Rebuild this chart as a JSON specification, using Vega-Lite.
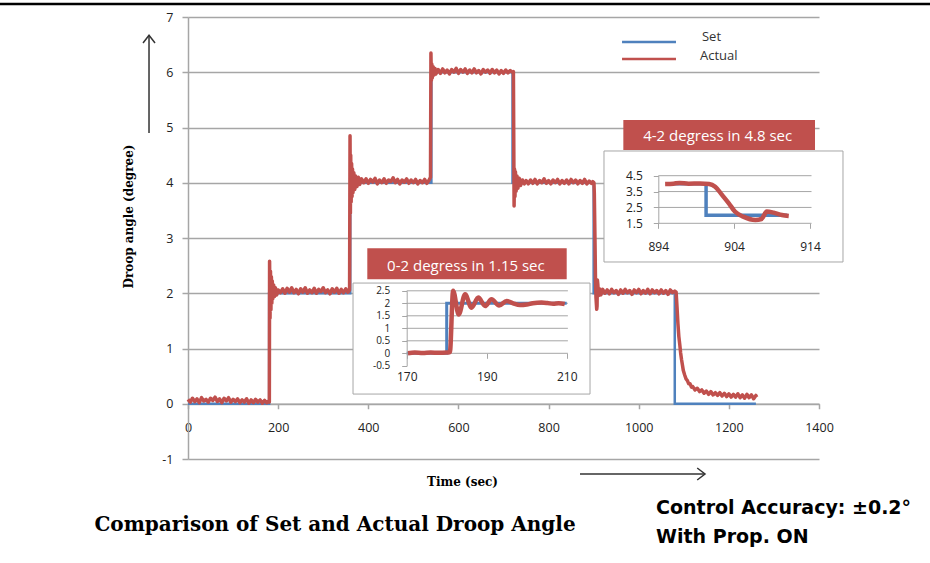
{
  "$schema": "https://vega.github.io/schema/vega-lite/v6.json",
  "width": 631,
  "height": 442,
  "autosize": {"type": "none"},
  "padding": {"left": 188, "top": 17, "right": 111, "bottom": 104},
  "background": "white",
  "config": {"view": {"stroke": null}},
  "datasets": {
    "mainSet": [
      {"i": 0, "t": 0, "v": 0, "s": "Set"}, {"i": 1, "t": 180, "v": 0, "s": "Set"}, {"i": 2, "t": 180, "v": 2, "s": "Set"},
      {"i": 3, "t": 360, "v": 2, "s": "Set"}, {"i": 4, "t": 360, "v": 4, "s": "Set"}, {"i": 5, "t": 540, "v": 4, "s": "Set"},
      {"i": 6, "t": 540, "v": 6, "s": "Set"}, {"i": 7, "t": 720, "v": 6, "s": "Set"}, {"i": 8, "t": 720, "v": 4, "s": "Set"},
      {"i": 9, "t": 900, "v": 4, "s": "Set"}, {"i": 10, "t": 900, "v": 2, "s": "Set"}, {"i": 11, "t": 1080, "v": 2, "s": "Set"},
      {"i": 12, "t": 1080, "v": 0, "s": "Set"}, {"i": 13, "t": 1260, "v": 0, "s": "Set"}
    ],
    "mainAct": [
      {"t": 0, "v": 0.08, "s": "Actual"}, {"t": 5, "v": 0.03, "s": "Actual"}, {"t": 10, "v": 0.1, "s": "Actual"}, {"t": 15, "v": 0.04, "s": "Actual"},
      {"t": 20, "v": 0.09, "s": "Actual"}, {"t": 25, "v": 0.02, "s": "Actual"}, {"t": 30, "v": 0.11, "s": "Actual"}, {"t": 35, "v": 0.05, "s": "Actual"},
      {"t": 40, "v": 0.08, "s": "Actual"}, {"t": 45, "v": 0.03, "s": "Actual"}, {"t": 50, "v": 0.1, "s": "Actual"}, {"t": 55, "v": 0.06, "s": "Actual"},
      {"t": 60, "v": 0.12, "s": "Actual"}, {"t": 65, "v": 0.04, "s": "Actual"}, {"t": 70, "v": 0.09, "s": "Actual"}, {"t": 75, "v": 0.02, "s": "Actual"},
      {"t": 80, "v": 0.1, "s": "Actual"}, {"t": 85, "v": 0.05, "s": "Actual"}, {"t": 90, "v": 0.11, "s": "Actual"}, {"t": 95, "v": 0.03, "s": "Actual"},
      {"t": 100, "v": 0.08, "s": "Actual"}, {"t": 105, "v": 0.04, "s": "Actual"}, {"t": 110, "v": 0.09, "s": "Actual"}, {"t": 115, "v": 0.02, "s": "Actual"},
      {"t": 120, "v": 0.07, "s": "Actual"}, {"t": 125, "v": 0.03, "s": "Actual"}, {"t": 130, "v": 0.09, "s": "Actual"}, {"t": 135, "v": 0.01, "s": "Actual"},
      {"t": 140, "v": 0.07, "s": "Actual"}, {"t": 145, "v": 0.02, "s": "Actual"}, {"t": 150, "v": 0.08, "s": "Actual"}, {"t": 155, "v": 0.03, "s": "Actual"},
      {"t": 160, "v": 0.07, "s": "Actual"}, {"t": 165, "v": 0.01, "s": "Actual"}, {"t": 170, "v": 0.06, "s": "Actual"}, {"t": 175, "v": 0.02, "s": "Actual"},
      {"t": 179, "v": 0.05, "s": "Actual"}, {"t": 180.5, "v": 0.03, "s": "Actual"},
      {"t": 181, "v": 2.58, "s": "Actual"}, {"t": 182, "v": 1.55, "s": "Actual"}, {"t": 183, "v": 2.4, "s": "Actual"}, {"t": 184, "v": 1.7, "s": "Actual"},
      {"t": 185, "v": 2.3, "s": "Actual"}, {"t": 186, "v": 1.82, "s": "Actual"}, {"t": 187, "v": 2.22, "s": "Actual"}, {"t": 188, "v": 1.9, "s": "Actual"},
      {"t": 190, "v": 2.15, "s": "Actual"}, {"t": 192, "v": 1.94, "s": "Actual"}, {"t": 194, "v": 2.1, "s": "Actual"}, {"t": 197, "v": 1.97, "s": "Actual"},
      {"t": 200, "v": 2.06, "s": "Actual"}, {"t": 205, "v": 2.01, "s": "Actual"}, {"t": 210, "v": 2.08, "s": "Actual"}, {"t": 215, "v": 2.0, "s": "Actual"},
      {"t": 220, "v": 2.09, "s": "Actual"}, {"t": 225, "v": 2.02, "s": "Actual"}, {"t": 230, "v": 2.1, "s": "Actual"}, {"t": 235, "v": 2.01, "s": "Actual"},
      {"t": 240, "v": 2.07, "s": "Actual"}, {"t": 245, "v": 1.99, "s": "Actual"}, {"t": 250, "v": 2.08, "s": "Actual"}, {"t": 255, "v": 2.02, "s": "Actual"},
      {"t": 260, "v": 2.1, "s": "Actual"}, {"t": 265, "v": 2.0, "s": "Actual"}, {"t": 270, "v": 2.06, "s": "Actual"}, {"t": 275, "v": 2.01, "s": "Actual"},
      {"t": 280, "v": 2.09, "s": "Actual"}, {"t": 285, "v": 2.0, "s": "Actual"}, {"t": 290, "v": 2.07, "s": "Actual"}, {"t": 295, "v": 2.03, "s": "Actual"},
      {"t": 300, "v": 2.1, "s": "Actual"}, {"t": 305, "v": 2.01, "s": "Actual"}, {"t": 310, "v": 2.06, "s": "Actual"}, {"t": 315, "v": 1.99, "s": "Actual"},
      {"t": 320, "v": 2.08, "s": "Actual"}, {"t": 325, "v": 2.02, "s": "Actual"}, {"t": 330, "v": 2.09, "s": "Actual"}, {"t": 335, "v": 2.0, "s": "Actual"},
      {"t": 340, "v": 2.07, "s": "Actual"}, {"t": 345, "v": 2.01, "s": "Actual"}, {"t": 350, "v": 2.08, "s": "Actual"}, {"t": 355, "v": 2.02, "s": "Actual"},
      {"t": 358.5, "v": 2.06, "s": "Actual"},
      {"t": 359.5, "v": 4.85, "s": "Actual"}, {"t": 360.3, "v": 3.45, "s": "Actual"}, {"t": 361, "v": 4.5, "s": "Actual"}, {"t": 362, "v": 3.65, "s": "Actual"},
      {"t": 363, "v": 4.35, "s": "Actual"}, {"t": 364, "v": 3.75, "s": "Actual"}, {"t": 365, "v": 4.25, "s": "Actual"}, {"t": 366, "v": 3.82, "s": "Actual"},
      {"t": 368, "v": 4.18, "s": "Actual"}, {"t": 370, "v": 3.88, "s": "Actual"}, {"t": 372, "v": 4.12, "s": "Actual"}, {"t": 375, "v": 3.93, "s": "Actual"},
      {"t": 378, "v": 4.1, "s": "Actual"}, {"t": 381, "v": 3.97, "s": "Actual"}, {"t": 385, "v": 4.07, "s": "Actual"}, {"t": 390, "v": 4.0, "s": "Actual"},
      {"t": 395, "v": 4.07, "s": "Actual"}, {"t": 400, "v": 3.99, "s": "Actual"}, {"t": 405, "v": 4.06, "s": "Actual"}, {"t": 410, "v": 4.01, "s": "Actual"},
      {"t": 415, "v": 4.08, "s": "Actual"}, {"t": 420, "v": 3.98, "s": "Actual"}, {"t": 425, "v": 4.05, "s": "Actual"}, {"t": 430, "v": 4.0, "s": "Actual"},
      {"t": 435, "v": 4.07, "s": "Actual"}, {"t": 440, "v": 3.99, "s": "Actual"}, {"t": 445, "v": 4.05, "s": "Actual"}, {"t": 450, "v": 4.02, "s": "Actual"},
      {"t": 455, "v": 4.09, "s": "Actual"}, {"t": 460, "v": 4.0, "s": "Actual"}, {"t": 465, "v": 4.06, "s": "Actual"}, {"t": 470, "v": 3.98, "s": "Actual"},
      {"t": 475, "v": 4.05, "s": "Actual"}, {"t": 480, "v": 4.01, "s": "Actual"}, {"t": 485, "v": 4.07, "s": "Actual"}, {"t": 490, "v": 3.99, "s": "Actual"},
      {"t": 495, "v": 4.05, "s": "Actual"}, {"t": 500, "v": 4.0, "s": "Actual"}, {"t": 505, "v": 4.06, "s": "Actual"}, {"t": 510, "v": 3.98, "s": "Actual"},
      {"t": 515, "v": 4.04, "s": "Actual"}, {"t": 520, "v": 4.0, "s": "Actual"}, {"t": 525, "v": 4.06, "s": "Actual"}, {"t": 530, "v": 3.99, "s": "Actual"},
      {"t": 535, "v": 4.05, "s": "Actual"}, {"t": 538, "v": 4.1, "s": "Actual"},
      {"t": 539, "v": 6.35, "s": "Actual"}, {"t": 540, "v": 5.85, "s": "Actual"}, {"t": 541, "v": 6.15, "s": "Actual"}, {"t": 542, "v": 5.9, "s": "Actual"},
      {"t": 544, "v": 6.1, "s": "Actual"}, {"t": 546, "v": 5.95, "s": "Actual"}, {"t": 548, "v": 6.07, "s": "Actual"}, {"t": 550, "v": 5.97, "s": "Actual"},
      {"t": 555, "v": 6.05, "s": "Actual"}, {"t": 560, "v": 5.98, "s": "Actual"}, {"t": 565, "v": 6.06, "s": "Actual"}, {"t": 570, "v": 5.99, "s": "Actual"},
      {"t": 575, "v": 6.04, "s": "Actual"}, {"t": 580, "v": 5.97, "s": "Actual"}, {"t": 585, "v": 6.05, "s": "Actual"}, {"t": 590, "v": 6.0, "s": "Actual"},
      {"t": 595, "v": 6.07, "s": "Actual"}, {"t": 600, "v": 5.98, "s": "Actual"}, {"t": 605, "v": 6.05, "s": "Actual"}, {"t": 610, "v": 6.0, "s": "Actual"},
      {"t": 615, "v": 6.06, "s": "Actual"}, {"t": 620, "v": 5.98, "s": "Actual"}, {"t": 625, "v": 6.04, "s": "Actual"}, {"t": 630, "v": 5.99, "s": "Actual"},
      {"t": 635, "v": 6.06, "s": "Actual"}, {"t": 640, "v": 5.99, "s": "Actual"}, {"t": 645, "v": 6.03, "s": "Actual"}, {"t": 650, "v": 5.97, "s": "Actual"},
      {"t": 655, "v": 6.05, "s": "Actual"}, {"t": 660, "v": 6.0, "s": "Actual"}, {"t": 665, "v": 6.04, "s": "Actual"}, {"t": 670, "v": 5.98, "s": "Actual"},
      {"t": 675, "v": 6.05, "s": "Actual"}, {"t": 680, "v": 5.99, "s": "Actual"}, {"t": 685, "v": 6.04, "s": "Actual"}, {"t": 690, "v": 5.97, "s": "Actual"},
      {"t": 695, "v": 6.03, "s": "Actual"}, {"t": 700, "v": 5.98, "s": "Actual"}, {"t": 705, "v": 6.04, "s": "Actual"}, {"t": 710, "v": 5.99, "s": "Actual"},
      {"t": 715, "v": 6.03, "s": "Actual"}, {"t": 720, "v": 6.0, "s": "Actual"}, {"t": 722, "v": 6.01, "s": "Actual"},
      {"t": 723.5, "v": 3.58, "s": "Actual"}, {"t": 724.5, "v": 4.25, "s": "Actual"}, {"t": 725.5, "v": 3.75, "s": "Actual"}, {"t": 726.5, "v": 4.2, "s": "Actual"},
      {"t": 728, "v": 3.85, "s": "Actual"}, {"t": 730, "v": 4.12, "s": "Actual"}, {"t": 732, "v": 3.9, "s": "Actual"}, {"t": 735, "v": 4.08, "s": "Actual"},
      {"t": 738, "v": 3.95, "s": "Actual"}, {"t": 742, "v": 4.05, "s": "Actual"}, {"t": 746, "v": 3.98, "s": "Actual"}, {"t": 750, "v": 4.04, "s": "Actual"},
      {"t": 755, "v": 3.98, "s": "Actual"}, {"t": 760, "v": 4.05, "s": "Actual"}, {"t": 765, "v": 3.99, "s": "Actual"}, {"t": 770, "v": 4.06, "s": "Actual"},
      {"t": 775, "v": 3.98, "s": "Actual"}, {"t": 780, "v": 4.04, "s": "Actual"}, {"t": 785, "v": 4.0, "s": "Actual"}, {"t": 790, "v": 4.07, "s": "Actual"},
      {"t": 795, "v": 3.99, "s": "Actual"}, {"t": 800, "v": 4.04, "s": "Actual"}, {"t": 805, "v": 3.98, "s": "Actual"}, {"t": 810, "v": 4.05, "s": "Actual"},
      {"t": 815, "v": 4.0, "s": "Actual"}, {"t": 820, "v": 4.06, "s": "Actual"}, {"t": 825, "v": 3.98, "s": "Actual"}, {"t": 830, "v": 4.04, "s": "Actual"},
      {"t": 835, "v": 3.99, "s": "Actual"}, {"t": 840, "v": 4.05, "s": "Actual"}, {"t": 845, "v": 3.98, "s": "Actual"}, {"t": 850, "v": 4.06, "s": "Actual"},
      {"t": 855, "v": 4.0, "s": "Actual"}, {"t": 860, "v": 4.05, "s": "Actual"}, {"t": 865, "v": 3.98, "s": "Actual"}, {"t": 870, "v": 4.04, "s": "Actual"},
      {"t": 875, "v": 3.99, "s": "Actual"}, {"t": 880, "v": 4.06, "s": "Actual"}, {"t": 885, "v": 3.98, "s": "Actual"}, {"t": 890, "v": 4.03, "s": "Actual"},
      {"t": 895, "v": 3.99, "s": "Actual"}, {"t": 898, "v": 4.02, "s": "Actual"}, {"t": 900.7, "v": 4.0, "s": "Actual"},
      {"t": 901.5, "v": 3.81, "s": "Actual"}, {"t": 902.4, "v": 3.29, "s": "Actual"}, {"t": 903.3, "v": 2.76, "s": "Actual"}, {"t": 904.1, "v": 2.24, "s": "Actual"},
      {"t": 905.2, "v": 1.92, "s": "Actual"}, {"t": 906.8, "v": 1.71, "s": "Actual"}, {"t": 907.6, "v": 1.77, "s": "Actual"}, {"t": 908.3, "v": 2.24, "s": "Actual"},
      {"t": 909.2, "v": 2.17, "s": "Actual"}, {"t": 910.3, "v": 2.02, "s": "Actual"}, {"t": 911.2, "v": 1.96, "s": "Actual"}, {"t": 913, "v": 2.08, "s": "Actual"},
      {"t": 916, "v": 1.97, "s": "Actual"}, {"t": 920, "v": 2.07, "s": "Actual"}, {"t": 925, "v": 2.0, "s": "Actual"}, {"t": 930, "v": 2.06, "s": "Actual"},
      {"t": 935, "v": 1.99, "s": "Actual"}, {"t": 940, "v": 2.07, "s": "Actual"}, {"t": 945, "v": 2.01, "s": "Actual"}, {"t": 950, "v": 2.05, "s": "Actual"},
      {"t": 955, "v": 1.98, "s": "Actual"}, {"t": 960, "v": 2.06, "s": "Actual"}, {"t": 965, "v": 2.0, "s": "Actual"}, {"t": 970, "v": 2.07, "s": "Actual"},
      {"t": 975, "v": 2.01, "s": "Actual"}, {"t": 980, "v": 2.05, "s": "Actual"}, {"t": 985, "v": 1.98, "s": "Actual"}, {"t": 990, "v": 2.06, "s": "Actual"},
      {"t": 995, "v": 2.01, "s": "Actual"}, {"t": 1000, "v": 2.07, "s": "Actual"}, {"t": 1005, "v": 1.99, "s": "Actual"}, {"t": 1010, "v": 2.05, "s": "Actual"},
      {"t": 1015, "v": 2.0, "s": "Actual"}, {"t": 1020, "v": 2.07, "s": "Actual"}, {"t": 1025, "v": 1.99, "s": "Actual"}, {"t": 1030, "v": 2.06, "s": "Actual"},
      {"t": 1035, "v": 2.01, "s": "Actual"}, {"t": 1040, "v": 2.05, "s": "Actual"}, {"t": 1045, "v": 1.99, "s": "Actual"}, {"t": 1050, "v": 2.06, "s": "Actual"},
      {"t": 1055, "v": 2.0, "s": "Actual"}, {"t": 1060, "v": 2.05, "s": "Actual"}, {"t": 1065, "v": 1.98, "s": "Actual"}, {"t": 1070, "v": 2.06, "s": "Actual"},
      {"t": 1075, "v": 2.01, "s": "Actual"}, {"t": 1080, "v": 2.04, "s": "Actual"}, {"t": 1083, "v": 2.02, "s": "Actual"},
      {"t": 1085, "v": 1.75, "s": "Actual"}, {"t": 1087, "v": 1.45, "s": "Actual"}, {"t": 1089, "v": 1.22, "s": "Actual"}, {"t": 1091, "v": 1.08, "s": "Actual"},
      {"t": 1093, "v": 0.92, "s": "Actual"}, {"t": 1095, "v": 0.8, "s": "Actual"}, {"t": 1097, "v": 0.7, "s": "Actual"}, {"t": 1099, "v": 0.6, "s": "Actual"},
      {"t": 1102, "v": 0.52, "s": "Actual"}, {"t": 1105, "v": 0.45, "s": "Actual"}, {"t": 1108, "v": 0.42, "s": "Actual"}, {"t": 1111, "v": 0.36, "s": "Actual"},
      {"t": 1114, "v": 0.36, "s": "Actual"}, {"t": 1117, "v": 0.3, "s": "Actual"}, {"t": 1120, "v": 0.31, "s": "Actual"}, {"t": 1125, "v": 0.25, "s": "Actual"},
      {"t": 1130, "v": 0.28, "s": "Actual"}, {"t": 1135, "v": 0.22, "s": "Actual"}, {"t": 1140, "v": 0.25, "s": "Actual"}, {"t": 1145, "v": 0.19, "s": "Actual"},
      {"t": 1150, "v": 0.23, "s": "Actual"}, {"t": 1155, "v": 0.17, "s": "Actual"}, {"t": 1160, "v": 0.22, "s": "Actual"}, {"t": 1165, "v": 0.16, "s": "Actual"},
      {"t": 1170, "v": 0.2, "s": "Actual"}, {"t": 1175, "v": 0.15, "s": "Actual"}, {"t": 1180, "v": 0.2, "s": "Actual"}, {"t": 1185, "v": 0.14, "s": "Actual"},
      {"t": 1190, "v": 0.19, "s": "Actual"}, {"t": 1195, "v": 0.13, "s": "Actual"}, {"t": 1200, "v": 0.18, "s": "Actual"}, {"t": 1205, "v": 0.12, "s": "Actual"},
      {"t": 1210, "v": 0.17, "s": "Actual"}, {"t": 1215, "v": 0.12, "s": "Actual"}, {"t": 1220, "v": 0.18, "s": "Actual"}, {"t": 1225, "v": 0.11, "s": "Actual"},
      {"t": 1230, "v": 0.16, "s": "Actual"}, {"t": 1235, "v": 0.1, "s": "Actual"}, {"t": 1240, "v": 0.17, "s": "Actual"}, {"t": 1245, "v": 0.11, "s": "Actual"},
      {"t": 1250, "v": 0.16, "s": "Actual"}, {"t": 1255, "v": 0.09, "s": "Actual"}, {"t": 1260, "v": 0.15, "s": "Actual"}, {"t": 1262, "v": 0.12, "s": "Actual"}
    ],
    "in1Set": [
      {"i": 0, "t": 170, "v": 0, "s": "Set"}, {"i": 1, "t": 180, "v": 0, "s": "Set"},
      {"i": 2, "t": 180, "v": 2, "s": "Set"}, {"i": 3, "t": 210, "v": 2, "s": "Set"}
    ],
    "in1Act": [
      {"t": 170.3, "v": 0.0, "s": "Actual"}, {"t": 172, "v": 0.03, "s": "Actual"}, {"t": 174, "v": 0.01, "s": "Actual"}, {"t": 176, "v": 0.03, "s": "Actual"},
      {"t": 178, "v": 0.02, "s": "Actual"}, {"t": 180, "v": 0.03, "s": "Actual"}, {"t": 180.8, "v": 0.05, "s": "Actual"}, {"t": 181.6, "v": 2.5, "s": "Actual"},
      {"t": 183, "v": 1.55, "s": "Actual"}, {"t": 184.6, "v": 2.36, "s": "Actual"}, {"t": 186.2, "v": 1.82, "s": "Actual"}, {"t": 187.9, "v": 2.23, "s": "Actual"},
      {"t": 189.6, "v": 1.89, "s": "Actual"}, {"t": 191.2, "v": 2.16, "s": "Actual"}, {"t": 193.1, "v": 1.91, "s": "Actual"}, {"t": 195, "v": 2.09, "s": "Actual"},
      {"t": 196.6, "v": 2.0, "s": "Actual"}, {"t": 198.3, "v": 1.93, "s": "Actual"}, {"t": 200, "v": 1.95, "s": "Actual"}, {"t": 201.5, "v": 2.0, "s": "Actual"},
      {"t": 203.7, "v": 2.03, "s": "Actual"}, {"t": 205.2, "v": 2.01, "s": "Actual"}, {"t": 206.6, "v": 1.98, "s": "Actual"}, {"t": 208, "v": 2.0, "s": "Actual"},
      {"t": 209.5, "v": 1.97, "s": "Actual"}
    ],
    "in2Set": [
      {"i": 0, "t": 895, "v": 4, "s": "Set"}, {"i": 1, "t": 900.3, "v": 4, "s": "Set"},
      {"i": 2, "t": 900.3, "v": 2, "s": "Set"}, {"i": 3, "t": 911, "v": 2, "s": "Set"}
    ],
    "in2Act": [
      {"t": 894.9, "v": 3.98, "s": "Actual"}, {"t": 896, "v": 4.0, "s": "Actual"}, {"t": 896.8, "v": 4.04, "s": "Actual"}, {"t": 898, "v": 4.0, "s": "Actual"},
      {"t": 899.5, "v": 4.01, "s": "Actual"}, {"t": 900.7, "v": 3.98, "s": "Actual"}, {"t": 901.5, "v": 3.81, "s": "Actual"}, {"t": 902.4, "v": 3.29, "s": "Actual"},
      {"t": 903.3, "v": 2.76, "s": "Actual"}, {"t": 904.1, "v": 2.24, "s": "Actual"}, {"t": 905.2, "v": 1.92, "s": "Actual"}, {"t": 906.8, "v": 1.71, "s": "Actual"},
      {"t": 907.6, "v": 1.77, "s": "Actual"}, {"t": 908.3, "v": 2.24, "s": "Actual"}, {"t": 909.2, "v": 2.17, "s": "Actual"}, {"t": 910.3, "v": 2.02, "s": "Actual"},
      {"t": 911.2, "v": 1.96, "s": "Actual"}
    ],
    "legendRows": [
      {"s": "Set", "x1": 963, "x2": 1082.7, "y": 6.548, "tx": 1140.4, "ty": 6.635},
      {"s": "Actual", "x1": 963, "x2": 1082.7, "y": 6.24, "tx": 1136.0, "ty": 6.3}
    ]
  },
  "layer": [
    {
      "layer": [
        {
          "data": {"name": "mainSet"},
          "mark": {"type": "line", "strokeWidth": 2.5},
          "encoding": {
            "x": {"field": "t", "type": "quantitative",
              "scale": {"domain": [0, 1400], "nice": false, "zero": false},
              "axis": {"orient": "bottom", "offset": -55.25, "values": [0, 200, 400, 600, 800, 1000, 1200, 1400],
                "grid": false, "domainColor": "#a6a6a6", "domainWidth": 1.5, "tickColor": "#a6a6a6", "tickWidth": 1.5, "tickSize": 5,
                "labelFont": "Open Sans", "labelFontSize": 12.5, "labelColor": "#222", "labelPadding": 13, "labelFlush": false, "labelOverlap": false,
                "labelExpr": "'' + datum.value",
                "title": "Time (sec)", "titleFont": "DejaVu Serif", "titleFontWeight": "bold", "titleFontSize": 12, "titleColor": "#000",
                "titleX": 274, "titleY": 78, "titleAlign": "center", "titleBaseline": "middle", "zindex": 0}},
            "y": {"field": "v", "type": "quantitative",
              "scale": {"domain": [-1, 7], "nice": false, "zero": false},
              "axis": {"orient": "left", "values": [-1, 0, 1, 2, 3, 4, 5, 6, 7], "grid": true, "gridColor": "#a6a6a6", "gridWidth": 1.5,
                "domainColor": "#a6a6a6", "domainWidth": 1.5, "tickColor": "#a6a6a6", "tickWidth": 1.5, "tickSize": 6,
                "labelFont": "Open Sans", "labelFontSize": 12.5, "labelColor": "#222", "labelPadding": 9, "labelOverlap": false,
                "labelExpr": "'' + datum.value",
                "title": "Droop angle (degree)", "titleFont": "DejaVu Serif", "titleFontWeight": "bold", "titleFontSize": 12, "titleColor": "#000",
                "titleX": -60, "titleY": 199, "titleAlign": "center", "titleBaseline": "middle", "zindex": 0}},
            "color": {"field": "s", "type": "nominal",
              "scale": {"domain": ["Set", "Actual"], "range": ["#4f81bd", "#c0504d"]},
              "legend": null},
            "order": {"field": "i"}
          }
        },
        {
          "data": {"name": "mainAct"},
          "mark": {"type": "line", "strokeWidth": 3.5, "strokeJoin": "round"},
          "encoding": {
            "x": {"field": "t", "type": "quantitative"},
            "y": {"field": "v", "type": "quantitative"},
            "color": {"field": "s", "type": "nominal", "legend": null}
          }
        },
        {
          "data": {"name": "legendRows"},
          "mark": {"type": "rule", "strokeWidth": 2.5},
          "encoding": {
            "x": {"field": "x1", "type": "quantitative"}, "x2": {"field": "x2"},
            "y": {"field": "y", "type": "quantitative"},
            "color": {"field": "s", "type": "nominal", "legend": null}
          }
        },
        {
          "data": {"name": "legendRows"},
          "mark": {"type": "text", "font": "Open Sans", "fontSize": 13, "color": "#333", "align": "left", "baseline": "middle"},
          "encoding": {
            "x": {"field": "tx", "type": "quantitative"},
            "y": {"field": "ty", "type": "quantitative"},
            "text": {"field": "s"}
          }
        },
        {
          "data": {"values": [
            {"x1": -86.5, "x2": -86.5, "y1": 4.9, "y2": 6.67},
            {"x1": 869.7, "x2": 1147.1, "y1": -1.272, "y2": -1.272}
          ]},
          "mark": {"type": "rule", "color": "#333", "strokeWidth": 1.5},
          "encoding": {
            "x": {"field": "x1", "type": "quantitative"}, "x2": {"field": "x2"},
            "y": {"field": "y1", "type": "quantitative"}, "y2": {"field": "y2"}
          }
        },
        {
          "data": {"values": [
            {"hx": -86.5, "hy": 6.67, "dir": "up"},
            {"hx": 1147.1, "hy": -1.272, "dir": "right"}
          ]},
          "mark": {"type": "point", "filled": false, "stroke": "#333", "strokeWidth": 1.5, "size": 144, "opacity": 1},
          "encoding": {
            "x": {"field": "hx", "type": "quantitative"},
            "y": {"field": "hy", "type": "quantitative"},
            "shape": {"field": "dir", "type": "nominal", "legend": null,
              "scale": {"domain": ["up", "right"], "range": ["M-1,1.3L0,0L1,1.3", "M-1.3,-1L0,0L-1.3,1"]}}
          }
        },
        {
          "data": {"values": [{"x1": -418, "x2": 1647, "y1": 7.235}]},
          "mark": {"type": "rule", "color": "#000", "strokeWidth": 2.5},
          "encoding": {
            "x": {"field": "x1", "type": "quantitative"}, "x2": {"field": "x2"},
            "y": {"field": "y1", "type": "quantitative"}
          }
        },
        {
          "data": {"values": [{"tx": 326.2, "ty": -2.195, "label": "Comparison of Set and Actual Droop Angle"}]},
          "mark": {"type": "text", "font": "DejaVu Serif", "fontWeight": "bold", "fontSize": 20, "color": "#000", "align": "center", "baseline": "middle"},
          "encoding": {
            "x": {"field": "tx", "type": "quantitative"},
            "y": {"field": "ty", "type": "quantitative"},
            "text": {"field": "label"}
          }
        },
        {
          "data": {"values": [
            {"tx": 1038.4, "ty": -1.887, "label": "Control Accuracy: ±0.2°"},
            {"tx": 1038.4, "ty": -2.412, "label": "With Prop. ON"}
          ]},
          "mark": {"type": "text", "font": "DejaVu Sans", "fontWeight": "bold", "fontSize": 19, "color": "#000", "align": "left", "baseline": "middle"},
          "encoding": {
            "x": {"field": "tx", "type": "quantitative"},
            "y": {"field": "ty", "type": "quantitative"},
            "text": {"field": "label"}
          }
        }
      ]
    },
    {
      "layer": [
        {
          "data": {"values": [{"x1": 156.58, "x2": 215.83, "y1": 2.81, "y2": -1.63}]},
          "mark": {"type": "rect", "fill": "white", "stroke": "#a6a6a6", "strokeWidth": 1},
          "encoding": {
            "x": {"field": "x1", "type": "quantitative",
              "scale": {"domain": [170, 210], "range": [218.7, 378.7], "nice": false, "zero": false},
              "axis": {"orient": "bottom", "offset": -105.7, "values": [170, 190, 210], "grid": false, "domain": false,
                "tickColor": "#a6a6a6", "tickSize": 5, "labelFont": "Open Sans", "labelFontSize": 12, "labelColor": "#222",
                "labelPadding": 13, "labelFlush": false, "labelOverlap": false, "title": null, "zindex": 1}},
            "x2": {"field": "x2"},
            "y": {"field": "y1", "type": "quantitative",
              "scale": {"domain": [-0.5, 2.5], "range": [348.8, 273.8], "nice": false, "zero": false},
              "axis": {"orient": "left", "offset": -218.7, "values": [-0.5, 0, 0.5, 1, 1.5, 2, 2.5], "grid": false,
                "domainColor": "#a6a6a6", "tickColor": "#a6a6a6", "tickSize": 5, "labelFont": "Open Sans", "labelFontSize": 10,
                "labelColor": "#222", "labelPadding": 12, "labelOverlap": false, "labelExpr": "'' + datum.value", "title": null, "zindex": 1}},
            "y2": {"field": "y2"}
          }
        },
        {
          "data": {"values": [{"x1": 160.15, "x2": 210, "y1": 4.2, "y2": 2.96}]},
          "mark": {"type": "rect", "fill": "#c0504d"},
          "encoding": {
            "x": {"field": "x1", "type": "quantitative"}, "x2": {"field": "x2"},
            "y": {"field": "y1", "type": "quantitative"}, "y2": {"field": "y2"}
          }
        },
        {
          "data": {"values": [{"tx": 184.8, "ty": 3.5, "label": "0-2 degress in 1.15 sec"}]},
          "mark": {"type": "text", "font": "Open Sans", "fontSize": 15, "color": "white", "align": "center", "baseline": "middle"},
          "encoding": {
            "x": {"field": "tx", "type": "quantitative"},
            "y": {"field": "ty", "type": "quantitative"},
            "text": {"field": "label"}
          }
        },
        {
          "data": {"values": [{"g": 0}, {"g": 0.5}, {"g": 1}, {"g": 1.5}, {"g": 2}, {"g": 2.5}]},
          "mark": {"type": "rule", "color": "#a6a6a6", "strokeWidth": 1},
          "encoding": {
            "x": {"datum": 170, "type": "quantitative"}, "x2": {"datum": 210.3},
            "y": {"field": "g", "type": "quantitative"}
          }
        },
        {
          "data": {"name": "in1Set"},
          "mark": {"type": "line", "strokeWidth": 3},
          "encoding": {
            "x": {"field": "t", "type": "quantitative"},
            "y": {"field": "v", "type": "quantitative"},
            "color": {"field": "s", "type": "nominal", "legend": null},
            "order": {"field": "i"}
          }
        },
        {
          "data": {"name": "in1Act"},
          "mark": {"type": "line", "strokeWidth": 4.5, "interpolate": "monotone", "strokeJoin": "round"},
          "encoding": {
            "x": {"field": "t", "type": "quantitative"},
            "y": {"field": "v", "type": "quantitative"},
            "color": {"field": "s", "type": "nominal", "legend": null}
          }
        }
      ]
    },
    {
      "layer": [
        {
          "data": {"values": [{"x1": 886.84, "x2": 918.35, "y1": 6.057, "y2": -0.939}]},
          "mark": {"type": "rect", "fill": "white", "stroke": "#a6a6a6", "strokeWidth": 1},
          "encoding": {
            "x": {"field": "x1", "type": "quantitative",
              "scale": {"domain": [894, 914], "range": [470.3, 622], "nice": false, "zero": false},
              "axis": {"orient": "bottom", "offset": -235.7, "values": [894, 904, 914], "grid": false, "domain": false,
                "tickColor": "#a6a6a6", "tickSize": 5, "labelFont": "Open Sans", "labelFontSize": 12, "labelColor": "#222",
                "labelPadding": 13, "labelFlush": false, "labelOverlap": false, "title": null, "zindex": 1}},
            "x2": {"field": "x2"},
            "y": {"field": "y1", "type": "quantitative",
              "scale": {"domain": [1.5, 4.5], "range": [206.3, 158.7], "nice": false, "zero": false},
              "axis": {"orient": "left", "offset": -470.3, "values": [1.5, 2.5, 3.5, 4.5], "grid": false,
                "domainColor": "#a6a6a6", "tickColor": "#a6a6a6", "tickSize": 5, "labelFont": "Open Sans", "labelFontSize": 12,
                "labelColor": "#222", "labelPadding": 11, "labelOverlap": false, "labelExpr": "'' + datum.value", "title": null, "zindex": 1}},
            "y2": {"field": "y2"}
          }
        },
        {
          "data": {"values": [{"x1": 889.39, "x2": 914.66, "y1": 8.01, "y2": 6.12}]},
          "mark": {"type": "rect", "fill": "#c0504d"},
          "encoding": {
            "x": {"field": "x1", "type": "quantitative"}, "x2": {"field": "x2"},
            "y": {"field": "y1", "type": "quantitative"}, "y2": {"field": "y2"}
          }
        },
        {
          "data": {"values": [{"tx": 901.83, "ty": 7.02, "label": "4-2 degress in 4.8 sec"}]},
          "mark": {"type": "text", "font": "Open Sans", "fontSize": 15, "color": "white", "align": "center", "baseline": "middle"},
          "encoding": {
            "x": {"field": "tx", "type": "quantitative"},
            "y": {"field": "ty", "type": "quantitative"},
            "text": {"field": "label"}
          }
        },
        {
          "data": {"values": [{"g": 1.5}, {"g": 2.5}, {"g": 3.5}, {"g": 4.5}]},
          "mark": {"type": "rule", "color": "#a6a6a6", "strokeWidth": 1},
          "encoding": {
            "x": {"datum": 894, "type": "quantitative"}, "x2": {"datum": 914.2},
            "y": {"field": "g", "type": "quantitative"}
          }
        },
        {
          "data": {"name": "in2Set"},
          "mark": {"type": "line", "strokeWidth": 3.5},
          "encoding": {
            "x": {"field": "t", "type": "quantitative"},
            "y": {"field": "v", "type": "quantitative"},
            "color": {"field": "s", "type": "nominal", "legend": null},
            "order": {"field": "i"}
          }
        },
        {
          "data": {"name": "in2Act"},
          "mark": {"type": "line", "strokeWidth": 4.5, "interpolate": "monotone", "strokeJoin": "round"},
          "encoding": {
            "x": {"field": "t", "type": "quantitative"},
            "y": {"field": "v", "type": "quantitative"},
            "color": {"field": "s", "type": "nominal", "legend": null}
          }
        }
      ]
    }
  ],
  "resolve": {
    "scale": {"x": "independent", "y": "independent"},
    "axis": {"x": "independent", "y": "independent"}
  }
}
